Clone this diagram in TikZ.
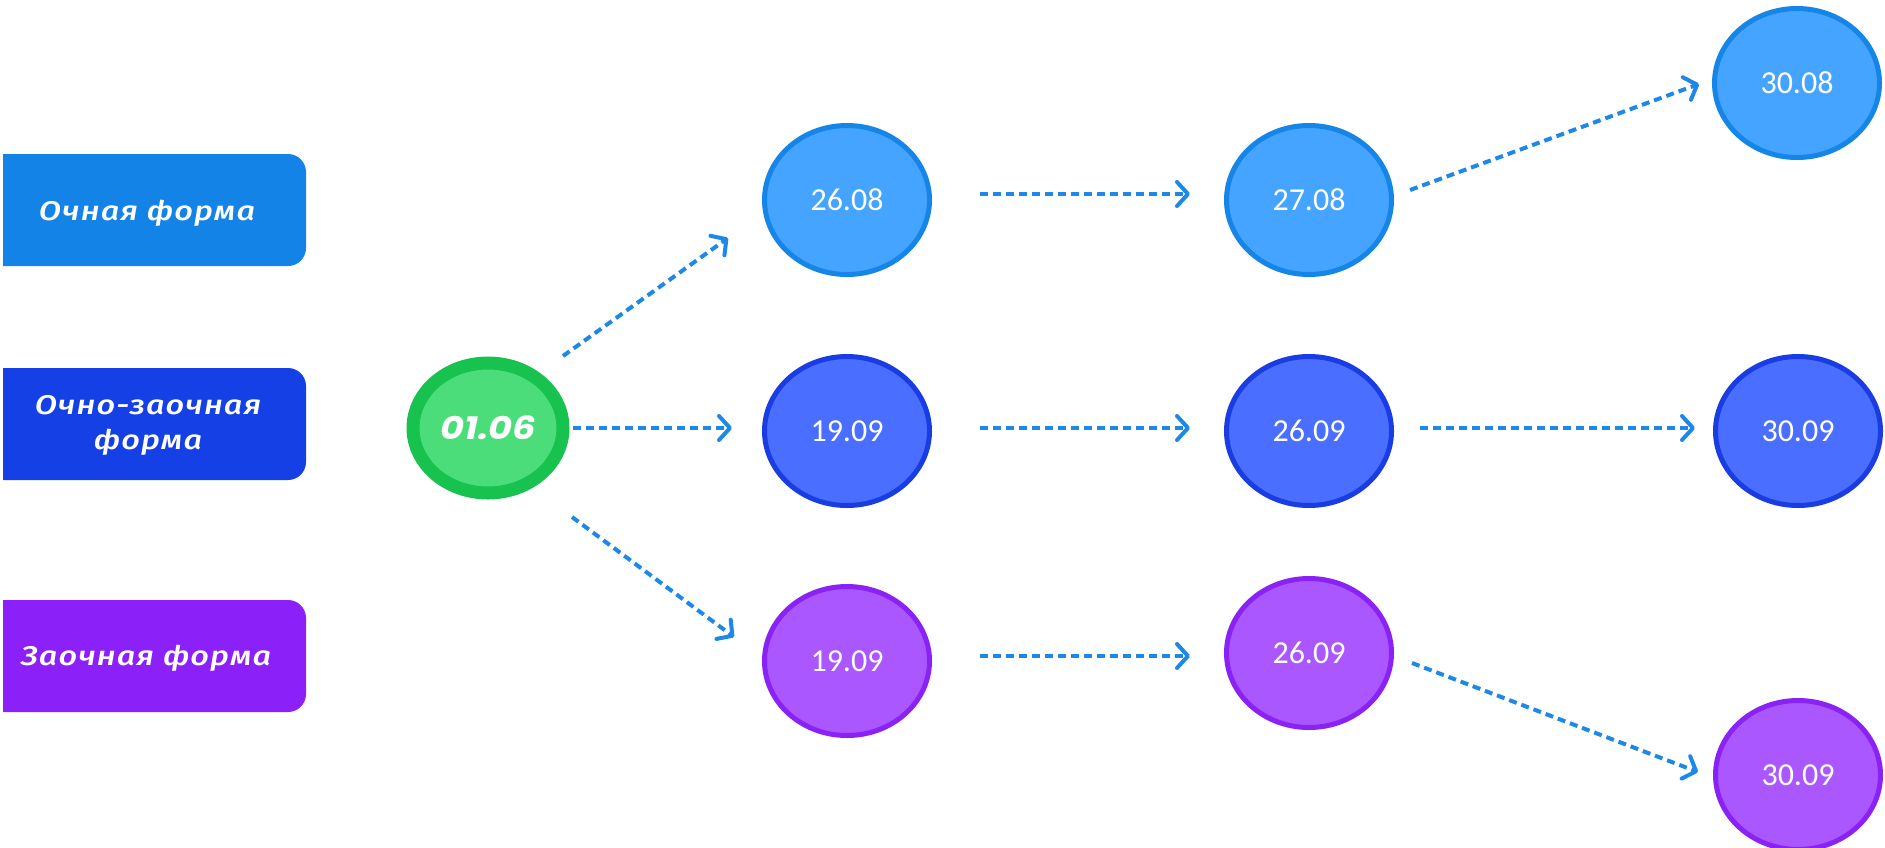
\documentclass[tikz,border=0pt]{standalone}
\usepackage{fontspec}
\setmainfont{Carlito}
\newfontfamily\boxfont{Fira Sans}[ItalicFont=* Medium Italic, FakeStretch=1.2, LetterSpace=4]
\newfontfamily\greenfont{Poppins}[FakeStretch=1.15]
\usetikzlibrary{arrows.meta,shapes.geometric}
\definecolor{boxA}{HTML}{1483E8}
\definecolor{boxB}{HTML}{1440E6}
\definecolor{boxC}{HTML}{8C20F8}
\definecolor{gOut}{HTML}{18C24F}
\definecolor{gIn}{HTML}{4CDD7B}
\definecolor{aFill}{HTML}{45A4FF}
\definecolor{aDraw}{HTML}{1585E8}
\definecolor{bFill}{HTML}{4A6EFF}
\definecolor{bDraw}{HTML}{1A3DE3}
\definecolor{cFill}{HTML}{AA57FF}
\definecolor{cDraw}{HTML}{8A22F5}
\definecolor{arrc}{HTML}{1E88E8}
\begin{document}
\begin{tikzpicture}[x=1pt,y=-1pt,
  datenode/.style={ellipse, line width=5pt, minimum width=165pt, minimum height=149pt, inner sep=0pt, text=white, font=\fontsize{32}{38}\selectfont},
  rowA/.style={datenode, fill=aFill, draw=aDraw},
  rowB/.style={datenode, fill=bFill, draw=bDraw},
  rowC/.style={datenode, fill=cFill, draw=cDraw},
  boxtext/.style={text=white, align=center, inner sep=0pt, font=\boxfont\itshape\fontsize{27}{35}\selectfont},
  arr/.style={draw=arrc, line width=4pt, dash pattern=on 8pt off 5pt, -{Straight Barb[length=11pt,width=24pt,round]}}
]
\useasboundingbox (0,0) rectangle (1885,847);

% left boxes
\fill[boxA] (3,154) -- (288,154) arc[start angle=-90,end angle=0,radius=18] -- (306,248) arc[start angle=0,end angle=90,radius=18] -- (3,266) -- cycle;
\fill[boxB] (3,368) -- (288,368) arc[start angle=-90,end angle=0,radius=18] -- (306,462) arc[start angle=0,end angle=90,radius=18] -- (3,480) -- cycle;
\fill[boxC] (3,600) -- (288,600) arc[start angle=-90,end angle=0,radius=18] -- (306,694) arc[start angle=0,end angle=90,radius=18] -- (3,712) -- cycle;
\node[boxtext] (t1) at (147,213) {Очная форма};
\node[boxtext] (t2) at (148,425) {Очно-заочная\\форма};
\node[boxtext] (t3) at (146,658) {Заочная форма};

% start node
\node[ellipse, fill=gIn, draw=gOut, line width=13pt, minimum width=150pt, minimum height=130pt, inner sep=0pt, text=white, font=\greenfont\bfseries\itshape\fontsize{32}{38}\selectfont] (g) at (488,428) {01.06};

% date nodes
\node[rowA] (a1) at (847,200) {26.08};
\node[rowA] (a2) at (1309,200) {27.08};
\node[rowA] (a3) at (1797,83) {30.08};
\node[rowB] (b1) at (847,431) {19.09};
\node[rowB] (b2) at (1309,431) {26.09};
\node[rowB] (b3) at (1798,431) {30.09};
\node[rowC] (c1) at (847,661) {19.09};
\node[rowC] (c2) at (1309,653) {26.09};
\node[rowC] (c3) at (1798,775) {30.09};

% connector end points
\coordinate (ga) at (563,356);  \coordinate (a1in) at (728,238);
\coordinate (gb) at (573,428);  \coordinate (b1in) at (732,428);
\coordinate (gc) at (572,517);  \coordinate (c1in) at (734,637);
\coordinate (a1out) at (980,194); \coordinate (a2in) at (1190,194);
\coordinate (b1out) at (980,428); \coordinate (b2in) at (1190,428);
\coordinate (c1out) at (980,656); \coordinate (c2in) at (1190,656);
\coordinate (a2out) at (1410,190); \coordinate (a3in) at (1699,84);
\coordinate (b2out) at (1420,428); \coordinate (b3in) at (1695,428);
\coordinate (c2out) at (1412,663); \coordinate (c3in) at (1698,772);

\draw[arr] (ga) -- (a1in);
\draw[arr] (gb) -- (b1in);
\draw[arr] (gc) -- (c1in);
\draw[arr] (a1out) -- (a2in);
\draw[arr] (b1out) -- (b2in);
\draw[arr] (c1out) -- (c2in);
\draw[arr] (a2out) -- (a3in);
\draw[arr] (b2out) -- (b3in);
\draw[arr] (c2out) -- (c3in);
\end{tikzpicture}
\end{document}
